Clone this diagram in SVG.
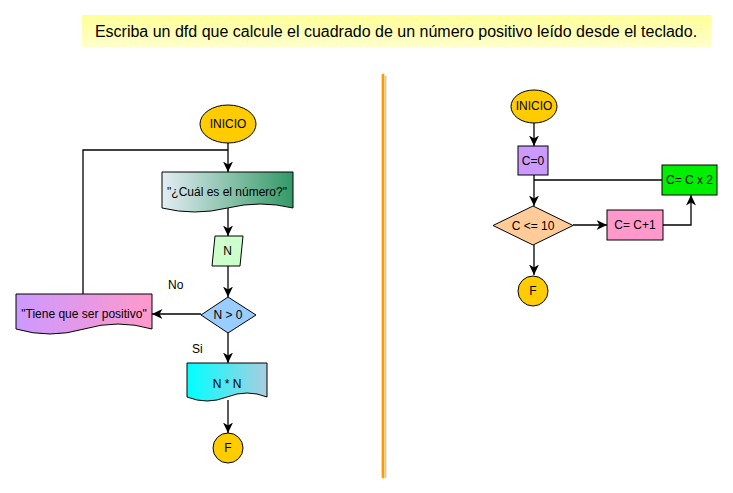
<svg xmlns="http://www.w3.org/2000/svg" width="733" height="493" viewBox="0 0 733 493">
<style>
text{font-family:"Liberation Sans",Arial,sans-serif;font-size:12px;fill:#000;text-anchor:middle;dominant-baseline:central}
.s{stroke:#000;stroke-width:1}
.c{fill:none;stroke:#000;stroke-width:1.3}
.a{marker-end:url(#ar)}
.lbl{text-anchor:start}
</style>
<defs>
<marker id="ar" markerUnits="userSpaceOnUse" markerWidth="11" markerHeight="11" refX="10.5" refY="5.5" orient="auto">
<path d="M0,0.5 L10.5,5.5 L0,10.5 L3,5.5 Z" fill="#000"/>
</marker>
<linearGradient id="gTitle" x1="0" y1="0" x2="0" y2="1"><stop offset="0" stop-color="#ffff99"/><stop offset="1" stop-color="#ffffcc"/></linearGradient>
<linearGradient id="gDoc1" x1="0" y1="0" x2="1" y2="0"><stop offset="0" stop-color="#e3edf3"/><stop offset="1" stop-color="#339966"/></linearGradient>
<linearGradient id="gTiene" x1="0" y1="0" x2="1" y2="0"><stop offset="0" stop-color="#cc99ff"/><stop offset="1" stop-color="#ff99cc"/></linearGradient>
<linearGradient id="gNN" x1="0" y1="0" x2="1" y2="0"><stop offset="0" stop-color="#00ffff"/><stop offset="1" stop-color="#a9cde0"/></linearGradient>
</defs>

<g id="title">
<rect x="82" y="15" width="629" height="32" fill="url(#gTitle)"/>
<text x="396" y="31" style="font-size:16px">Escriba un dfd que calcule el cuadrado de un número positivo leído desde el teclado.</text>
</g>

<g id="divider">
<line x1="385.5" y1="76" x2="385.5" y2="478" stroke="#cccccc" stroke-width="2"/>
<line x1="383" y1="75" x2="383" y2="477" stroke="#ffcc66" stroke-width="3.5" stroke-linecap="round"/>
<line x1="383" y1="75" x2="383" y2="477" stroke="#ff9900" stroke-width="2" stroke-linecap="round"/>
</g>

<g id="connectors">
<path class="c a" d="M228,143 V172"/>
<path class="c" d="M83,294 V150 H228"/>
<path class="c a" d="M228,208 V236"/>
<path class="c a" d="M228,266 V297"/>
<path class="c a" d="M201,314 H152"/>
<path class="c a" d="M228,333 V363"/>
<path class="c a" d="M228,400 V433"/>
<path class="c a" d="M534,123 V146"/>
<path class="c a" d="M534,175 V206"/>
<path class="c" d="M662,180 H534"/>
<path class="c a" d="M573,225 H607"/>
<path class="c a" d="M663,225 H691 V195"/>
<path class="c a" d="M534,245 V275"/>
</g>

<g id="inicio1">
<ellipse class="s" cx="228" cy="124" rx="28" ry="19" fill="#ffcc00"/>
<text x="228" y="124">INICIO</text>
</g>
<g id="pregunta">
<path class="s" fill="url(#gDoc1)" d="M162,172 H293 V208 Q260.25,200 227.5,208 Q194.75,216 162,208 Z"/>
<text x="227" y="192">"¿Cuál es el número?"</text>
</g>
<g id="leerN">
<path class="s" fill="#ccffcc" d="M215,236 H243 L240,266 H212 Z"/>
<text x="227.5" y="251">N</text>
</g>
<g id="decision1">
<path class="s" fill="#99ccff" d="M228,297 L256,315 L228,333 L201,315 Z"/>
<text x="228" y="315">N &gt; 0</text>
</g>
<g id="tiene">
<path class="s" fill="url(#gTiene)" d="M16,294 H152 V329 Q118,319 84,329 Q50,339 16,329 Z"/>
<text x="84" y="314">"Tiene que ser positivo"</text>
</g>
<g id="nn">
<path class="s" fill="url(#gNN)" d="M187,363 H267 V397 Q247,389 227,397 Q207,405 187,397 Z"/>
<text x="227" y="384">N * N</text>
</g>
<g id="fin1">
<circle class="s" cx="228" cy="448" r="15" fill="#ffcc00"/>
<text x="228" y="448">F</text>
</g>
<text class="lbl" x="168" y="285">No</text>
<text class="lbl" x="192" y="349">Si</text>

<g id="inicio2">
<ellipse class="s" cx="534" cy="106.5" rx="23" ry="16.5" fill="#ffcc00"/>
<text x="534" y="106">INICIO</text>
</g>
<g id="c0">
<rect class="s" x="518" y="146" width="30" height="29" fill="#cc99ff"/>
<text x="533" y="161">C=0</text>
</g>
<g id="decision2">
<path class="s" fill="#ffcc99" d="M533,206 L573,225.5 L533,245 L493,225.5 Z"/>
<text x="533" y="225.5">C &lt;= 10</text>
</g>
<g id="cmas1">
<rect class="s" x="607" y="210" width="56" height="30" fill="#ff99cc"/>
<text x="635" y="225">C= C+1</text>
</g>
<g id="cx2">
<rect class="s" x="662" y="165" width="55" height="30" fill="#00ee00"/>
<text x="689.5" y="180">C= C x 2</text>
</g>
<g id="fin2">
<circle class="s" cx="533" cy="291" r="15" fill="#ffcc00"/>
<text x="533" y="291">F</text>
</g>
</svg>
